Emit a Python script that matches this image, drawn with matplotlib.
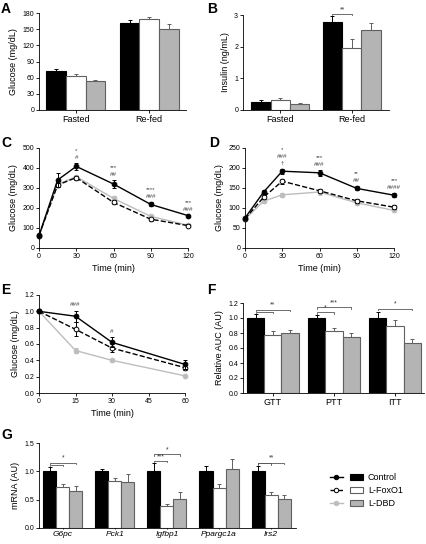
import matplotlib
matplotlib.use("Agg")
import matplotlib.pyplot as plt
import numpy as np
from matplotlib.legend_handler import HandlerTuple
from matplotlib.lines import Line2D
from matplotlib.patches import Patch

plt.rcParams["font.family"] = ["Liberation Sans", "DejaVu Sans"]
plt.rcParams["font.size"] = 5
plt.rcParams["axes.linewidth"] = 0.6
plt.rcParams["xtick.major.size"] = 2
plt.rcParams["ytick.major.size"] = 2
plt.rcParams["xtick.major.width"] = 0.6
plt.rcParams["ytick.major.width"] = 0.6
plt.rcParams["xtick.major.pad"] = 1.5
plt.rcParams["ytick.major.pad"] = 1.5

# ---- data ----
groups = ["Control", "L-FoxO1", "L-DBD"]

# A: fasting / re-fed glucose
a_labels = ["Fasted", "Re-fed"]
a_ctrl = [72, 162]
a_ctrl_err = [4, 5]
a_foxo = [64, 168]
a_foxo_err = [3, 4]
a_dbd = [53, 151]
a_dbd_err = [3, 8]

# B: insulin
b_labels = ["Fasted", "Re-fed"]
b_ctrl = [0.26, 2.77]
b_ctrl_err = [0.05, 0.2]
b_foxo = [0.32, 1.95]
b_foxo_err = [0.07, 0.28]
b_dbd = [0.18, 2.52]
b_dbd_err = [0.03, 0.22]
b_brackets = [(1, 1, 3.03, "**")]

# C: GTT
c_time = [0, 15, 30, 60, 90, 120]
c_ctrl = [62, 340, 408, 320, 218, 162]
c_ctrl_err = [5, 37, 16, 18, 10, 5]
c_foxo = [64, 315, 352, 228, 144, 112]
c_foxo_err = [4, 12, 10, 10, 8, 6]
c_dbd = [60, 318, 357, 248, 158, 114]
c_dbd_err = [4, 10, 10, 10, 8, 6]
c_hash = ["", "", "#", "##", "###", "###"]
c_star = ["", "", "*", "***", "****", "***"]

# D: PTT
d_time = [0, 15, 30, 60, 90, 120]
d_ctrl = [75, 140, 192, 188, 149, 132]
d_ctrl_err = [3, 5, 6, 7, 5, 5]
d_foxo = [73, 127, 167, 143, 118, 102]
d_foxo_err = [3, 5, 6, 5, 5, 5]
d_dbd = [72, 117, 133, 140, 113, 94]
d_dbd_err = [3, 5, 5, 8, 5, 5]
d_dagger = ["", "", "\u2020", "", "", ""]
d_hash = ["", "", "###", "###", "##", "####"]
d_star = ["", "", "*", "***", "**", "***"]

# E: ITT
e_time = [0, 15, 30, 60]
e_ctrl = [1.0, 0.94, 0.62, 0.35]
e_ctrl_err = [0, 0.07, 0.06, 0.05]
e_foxo = [1.0, 0.78, 0.55, 0.31]
e_foxo_err = [0, 0.085, 0.05, 0.03]
e_dbd = [1.0, 0.52, 0.40, 0.21]
e_dbd_err = [0, 0.035, 0.02, 0.01]
e_hash = ["", "###", "#", ""]

# F: relative AUC
f_labels = ["GTT", "PTT", "ITT"]
f_ctrl = [1.0, 1.0, 1.0]
f_ctrl_err = [0.05, 0.04, 0.08]
f_foxo = [0.78, 0.825, 0.89]
f_foxo_err = [0.045, 0.04, 0.08]
f_dbd = [0.80, 0.75, 0.665]
f_dbd_err = [0.04, 0.05, 0.055]
f_brackets = [(0, 2, 1.107, "**"), (0, 1, 1.084, ""), (1, 2, 1.143, "***"),
              (1, 1, 1.076, "*"), (2, 2, 1.12, "*")]

# G: gene expression
g_labels = ["G6pc", "Pck1", "Igfbp1", "Ppargc1a", "Irs2"]
g_ctrl = [1, 1, 1, 1, 1]
g_ctrl_err = [0.085, 0.05, 0.14, 0.09, 0.10]
g_foxo = [0.72, 0.83, 0.38, 0.70, 0.58]
g_foxo_err = [0.06, 0.045, 0.035, 0.075, 0.05]
g_dbd = [0.65, 0.82, 0.52, 1.04, 0.52]
g_dbd_err = [0.10, 0.14, 0.12, 0.18, 0.07]
g_brackets = [(0, 2, 1.155, "*"), (0, 1, 1.11, ""), (2, 2, 1.30, "*"),
              (2, 1, 1.18, "***"), (4, 2, 1.155, "**"), (4, 1, 1.14, "")]

# ---- styles ----
bar_face = ["black", "white", "#b4b4b4"]
bar_edge = ["black", "#606060", "#606060"]
line_color = ["black", "black", "#bdbdbd"]
line_style = ["-", "--", "-"]
marker_face = ["black", "white", "#bdbdbd"]

W, H = 426, 544
fig = plt.figure(figsize=(W / 100, H / 100), dpi=100)


def axes_px(left, top, right, bottom):
    ax = fig.add_axes([left / W, 1 - bottom / H, (right - left) / W, (bottom - top) / H])
    ax.spines["top"].set_visible(False)
    ax.spines["right"].set_visible(False)
    return ax


def panel_letter(x, y, s):
    fig.text(x / W, 1 - y / H, s, fontsize=10, fontweight="bold", va="top", ha="left")


def bar_panel(ax, means, errs, labels, width, brackets, italic=False, label_size=6.5):
    x = np.arange(len(labels))
    for i, (m, e) in enumerate(zip(means, errs)):
        pos = x + (i - 1) * width
        ax.bar(pos, m, width, color=bar_face[i], edgecolor=bar_edge[i], linewidth=0.8, zorder=2)
        ax.errorbar(pos, m, yerr=[np.zeros(len(e)), e], fmt="none", ecolor=bar_edge[i],
                    elinewidth=0.7, capsize=1.6, capthick=0.7, zorder=1)
    for g, j, level, label in brackets:
        x0 = g - width
        x1 = g + (j - 1) * width
        drop = (ax.get_ylim()[1]) * 0.015
        ax.plot([x0, x0, x1, x1], [level - drop, level, level, level - drop],
                color="#555555", lw=0.6, clip_on=False)
        if label:
            ax.annotate(label, ((x0 + x1) / 2, level), xytext=(0, 0.8), textcoords="offset points",
                        ha="center", va="bottom", fontsize=4.8, color="#333333",
                        annotation_clip=False)
    ax.set_xticks(x)
    ax.set_xticklabels(labels, fontsize=label_size, style="italic" if italic else "normal")


def line_panel(ax, times, means, errs, sig_rows):
    for i, (m, e) in enumerate(zip(means, errs)):
        ax.errorbar(times, m, yerr=e, color=line_color[i], ls=line_style[i], lw=1.0,
                    marker="o", ms=3.4, mfc=marker_face[i], mec=line_color[i], mew=0.7,
                    elinewidth=0.7, capsize=1.6, capthick=0.7, clip_on=False,
                    zorder=4 - i if i else 5)
    top = np.array(means[0]) + np.array(errs[0])
    for k, t in enumerate(times):
        n = 0
        for row in sig_rows:
            if row[k]:
                ax.annotate(row[k], (t, top[k]), xytext=(0, 4 + 5 * n), textcoords="offset points",
                            ha="center", va="center", fontsize=4.5, color="#444444",
                            annotation_clip=False)
                n += 1
    ax.set_xlabel("Time (min)", fontsize=6.5, labelpad=3)


def set_ylabel(ax, s):
    ax.set_ylabel(s, fontsize=6.5, labelpad=3)


# A
ax = axes_px(39, 13, 186, 110)
bar_panel(ax, [a_ctrl, a_foxo, a_dbd], [a_ctrl_err, a_foxo_err, a_dbd_err], a_labels, 0.266, [])
ax.set_xlim(-0.5, 1.5)
ax.set_ylim(0, 180)
ax.set_yticks(range(0, 181, 30))
set_ylabel(ax, "Glucose (mg/dL)")
panel_letter(1, 2, "A")

# B
ax = axes_px(243, 15, 389, 110)
ax.set_ylim(0, 3)
bar_panel(ax, [b_ctrl, b_foxo, b_dbd], [b_ctrl_err, b_foxo_err, b_dbd_err], b_labels, 0.27, b_brackets)
ax.set_xlim(-0.52, 1.52)
ax.set_yticks([0, 1, 2, 3])
set_ylabel(ax, "Insulin (ng/mL)")
panel_letter(207, 2, "B")

# C
ax = axes_px(39, 148, 188, 248)
line_panel(ax, c_time, [c_ctrl, c_foxo, c_dbd], [c_ctrl_err, c_foxo_err, c_dbd_err], [c_hash, c_star])
ax.set_xlim(0, 120)
ax.set_ylim(0, 500)
ax.set_xticks(range(0, 121, 30))
ax.set_yticks(range(0, 501, 100))
set_ylabel(ax, "Glucose (mg/dL)")
panel_letter(1, 136, "C")

# D
ax = axes_px(245, 148, 394, 248)
line_panel(ax, d_time, [d_ctrl, d_foxo, d_dbd], [d_ctrl_err, d_foxo_err, d_dbd_err],
           [d_dagger, d_hash, d_star])
ax.set_xlim(0, 120)
ax.set_ylim(0, 250)
ax.set_xticks(range(0, 121, 30))
ax.set_yticks(range(0, 251, 50))
set_ylabel(ax, "Glucose (mg/dL)")
panel_letter(209, 136, "D")

# E
ax = axes_px(39, 295, 185, 393)
line_panel(ax, e_time, [e_ctrl, e_foxo, e_dbd], [e_ctrl_err, e_foxo_err, e_dbd_err], [e_hash])
ax.set_xlim(0, 60)
ax.set_ylim(0, 1.2)
ax.set_xticks(range(0, 61, 15))
ax.set_yticks(np.arange(0, 1.21, 0.2))
ax.yaxis.set_major_formatter("{x:.1f}")
set_ylabel(ax, "Glucose (mg/dL)")
panel_letter(1, 283, "E")

# F
ax = axes_px(243, 303, 424, 393)
ax.set_ylim(0, 1.2)
bar_panel(ax, [f_ctrl, f_foxo, f_dbd], [f_ctrl_err, f_foxo_err, f_dbd_err], f_labels, 0.28, f_brackets)
ax.set_xlim(-0.49, 2.475)
ax.set_yticks(np.arange(0, 1.21, 0.2))
ax.yaxis.set_major_formatter("{x:.1f}")
set_ylabel(ax, "Relative AUC (AU)")
panel_letter(207, 283, "F")

# G
ax = axes_px(39, 443, 296, 528)
ax.set_ylim(0, 1.5)
bar_panel(ax, [g_ctrl, g_foxo, g_dbd], [g_ctrl_err, g_foxo_err, g_dbd_err], g_labels, 0.25,
          g_brackets, italic=True, label_size=6)
ax.set_xlim(-0.46, 4.48)
ax.set_yticks([0, 0.5, 1.0, 1.5])
ax.yaxis.set_major_formatter("{x:.1f}")
ax.tick_params(axis="x", length=1, pad=0.8)
set_ylabel(ax, "mRNA (AU)")
panel_letter(1, 428, "G")

# legend
handles = []
for i in range(3):
    ln = Line2D([], [], color=line_color[i], ls=line_style[i], lw=1.0, marker="o", ms=3.2,
                mfc=marker_face[i], mec=line_color[i], mew=0.7)
    pt = Patch(facecolor=bar_face[i], edgecolor=bar_edge[i], linewidth=0.8)
    handles.append((ln, pt))
fig.legend(handles, groups, handler_map={tuple: HandlerTuple(ndivide=None, pad=0.8)},
           loc="upper left", bbox_to_anchor=(330 / W, 1 - 473 / H), frameon=False,
           fontsize=6.5, handlelength=3.6, handleheight=0.7, labelspacing=0.45,
           handletextpad=0.6, borderpad=0, borderaxespad=0)

fig.savefig("out.png", dpi=100)
